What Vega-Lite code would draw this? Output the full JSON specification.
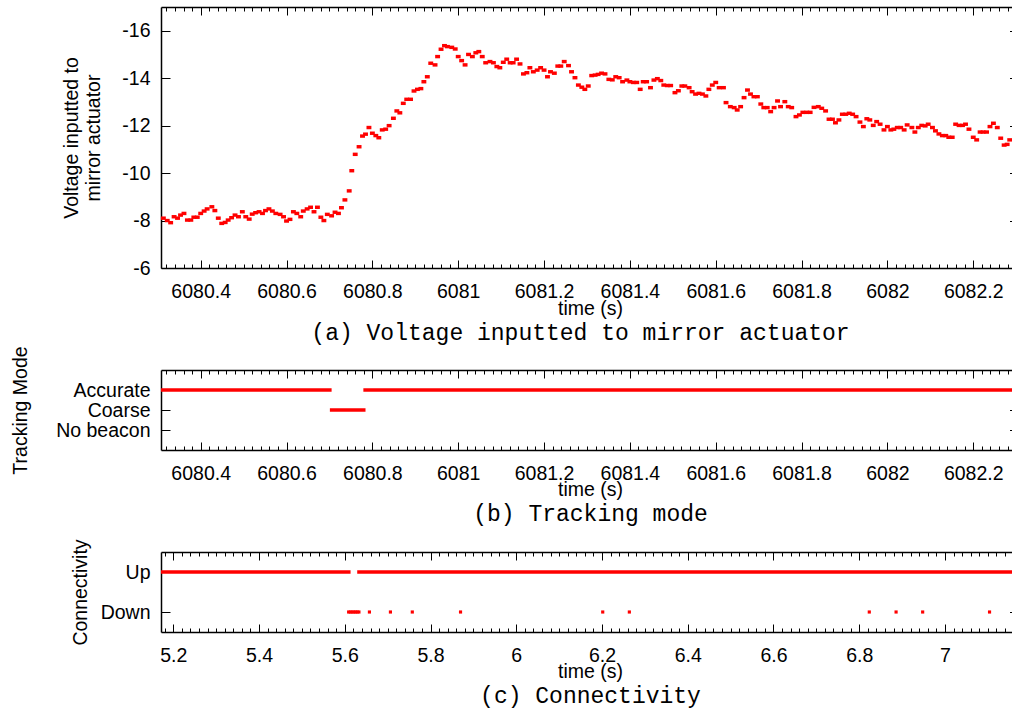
{
  "$schema": "https://vega.github.io/schema/vega-lite/v6.json",
  "autosize": {"type": "pad"},
  "padding": {"left": 10, "top": 6, "right": 0, "bottom": 0},
  "background": "#ffffff",
  "bounds": "flush",
  "spacing": 102,
  "config": {
    "view": {"stroke": null},
    "axis": {
      "grid": false,
      "labelFont": "Liberation Sans", "labelFontSize": 19.5, "labelColor": "#000000",
      "titleFont": "Liberation Sans", "titleFontSize": 19.5, "titleFontWeight": "normal", "titleColor": "#000000",
      "domainColor": "#000000", "domainWidth": 1.5, "tickColor": "#000000", "tickWidth": 1
    },
    "title": {"font": "Liberation Mono", "fontSize": 23, "fontWeight": "normal", "color": "#000000"}
  },
  "datasets": {
    "voltage": [
      {"t":6080.313,"v":-8.10},{"t":6080.322,"v":-8.00},{"t":6080.330,"v":-7.91},{"t":6080.338,"v":-8.16},{"t":6080.346,"v":-8.10},
      {"t":6080.353,"v":-8.23},{"t":6080.361,"v":-8.30},{"t":6080.369,"v":-8.02},{"t":6080.377,"v":-8.02},{"t":6080.384,"v":-8.14},
      {"t":6080.392,"v":-8.14},{"t":6080.400,"v":-8.30},{"t":6080.408,"v":-8.40},{"t":6080.415,"v":-8.49},{"t":6080.426,"v":-8.58},
      {"t":6080.433,"v":-8.42},{"t":6080.441,"v":-8.10},{"t":6080.449,"v":-7.88},{"t":6080.457,"v":-7.92},{"t":6080.464,"v":-8.02},
      {"t":6080.472,"v":-8.12},{"t":6080.480,"v":-8.23},{"t":6080.488,"v":-8.16},{"t":6080.497,"v":-8.37},{"t":6080.505,"v":-8.16},
      {"t":6080.513,"v":-8.06},{"t":6080.520,"v":-8.27},{"t":6080.528,"v":-8.33},{"t":6080.536,"v":-8.37},{"t":6080.544,"v":-8.30},
      {"t":6080.551,"v":-8.42},{"t":6080.559,"v":-8.49},{"t":6080.567,"v":-8.40},{"t":6080.575,"v":-8.30},{"t":6080.585,"v":-8.26},
      {"t":6080.593,"v":-8.16},{"t":6080.600,"v":-7.98},{"t":6080.608,"v":-8.05},{"t":6080.616,"v":-8.37},{"t":6080.624,"v":-8.30},
      {"t":6080.633,"v":-8.16},{"t":6080.639,"v":-8.40},{"t":6080.648,"v":-8.49},{"t":6080.656,"v":-8.56},{"t":6080.664,"v":-8.37},
      {"t":6080.672,"v":-8.56},{"t":6080.680,"v":-8.14},{"t":6080.687,"v":-8.00},{"t":6080.695,"v":-8.26},{"t":6080.705,"v":-8.20},
      {"t":6080.713,"v":-8.35},{"t":6080.721,"v":-8.30},{"t":6080.728,"v":-8.54},{"t":6080.736,"v":-8.87},{"t":6080.746,"v":-9.25},
      {"t":6080.752,"v":-10.10},{"t":6080.760,"v":-10.79},{"t":6080.769,"v":-11.11},{"t":6080.777,"v":-11.56},{"t":6080.784,"v":-11.64},
      {"t":6080.792,"v":-11.92},{"t":6080.800,"v":-11.68},{"t":6080.808,"v":-11.58},{"t":6080.815,"v":-11.49},{"t":6080.823,"v":-11.82},
      {"t":6080.831,"v":-11.85},{"t":6080.839,"v":-12.00},{"t":6080.849,"v":-12.31},{"t":6080.857,"v":-12.62},{"t":6080.864,"v":-12.54},
      {"t":6080.872,"v":-12.94},{"t":6080.880,"v":-13.11},{"t":6080.889,"v":-13.11},{"t":6080.897,"v":-13.46},{"t":6080.905,"v":-13.53},
      {"t":6080.913,"v":-13.56},{"t":6080.920,"v":-13.85},{"t":6080.928,"v":-14.06},{"t":6080.936,"v":-14.63},{"t":6080.946,"v":-14.56},
      {"t":6080.952,"v":-14.91},{"t":6080.960,"v":-15.22},{"t":6080.968,"v":-15.37},{"t":6080.975,"v":-15.33},{"t":6080.985,"v":-15.30},
      {"t":6080.993,"v":-15.23},{"t":6081.000,"v":-14.91},{"t":6081.008,"v":-14.74},{"t":6081.016,"v":-14.56},{"t":6081.024,"v":-15.00},
      {"t":6081.033,"v":-14.91},{"t":6081.041,"v":-15.07},{"t":6081.048,"v":-15.12},{"t":6081.056,"v":-14.91},{"t":6081.064,"v":-14.65},
      {"t":6081.074,"v":-14.70},{"t":6081.082,"v":-14.65},{"t":6081.090,"v":-14.49},{"t":6081.097,"v":-14.44},{"t":6081.105,"v":-14.67},
      {"t":6081.113,"v":-14.80},{"t":6081.121,"v":-14.65},{"t":6081.128,"v":-14.65},{"t":6081.136,"v":-14.80},{"t":6081.144,"v":-14.60},
      {"t":6081.152,"v":-14.18},{"t":6081.160,"v":-14.23},{"t":6081.167,"v":-14.44},{"t":6081.175,"v":-14.27},{"t":6081.184,"v":-14.34},
      {"t":6081.192,"v":-14.44},{"t":6081.200,"v":-14.34},{"t":6081.208,"v":-14.06},{"t":6081.215,"v":-14.27},{"t":6081.224,"v":-14.21},
      {"t":6081.232,"v":-14.51},{"t":6081.239,"v":-14.51},{"t":6081.247,"v":-14.70},{"t":6081.257,"v":-14.53},{"t":6081.264,"v":-14.27},
      {"t":6081.272,"v":-14.02},{"t":6081.280,"v":-13.71},{"t":6081.288,"v":-13.62},{"t":6081.295,"v":-13.53},{"t":6081.303,"v":-13.67},
      {"t":6081.311,"v":-14.11},{"t":6081.319,"v":-14.13},{"t":6081.326,"v":-14.16},{"t":6081.334,"v":-14.21},{"t":6081.342,"v":-14.18},
      {"t":6081.351,"v":-13.95},{"t":6081.359,"v":-13.93},{"t":6081.367,"v":-14.06},{"t":6081.375,"v":-14.02},{"t":6081.383,"v":-13.85},
      {"t":6081.393,"v":-13.92},{"t":6081.400,"v":-13.85},{"t":6081.408,"v":-13.82},{"t":6081.416,"v":-13.82},{"t":6081.424,"v":-13.53},
      {"t":6081.431,"v":-13.85},{"t":6081.439,"v":-13.85},{"t":6081.448,"v":-13.60},{"t":6081.456,"v":-13.92},{"t":6081.464,"v":-13.98},
      {"t":6081.472,"v":-13.90},{"t":6081.479,"v":-13.71},{"t":6081.487,"v":-13.69},{"t":6081.495,"v":-13.69},{"t":6081.505,"v":-13.39},
      {"t":6081.513,"v":-13.47},{"t":6081.521,"v":-13.67},{"t":6081.528,"v":-13.67},{"t":6081.538,"v":-13.60},{"t":6081.545,"v":-13.43},
      {"t":6081.553,"v":-13.33},{"t":6081.561,"v":-13.36},{"t":6081.569,"v":-13.33},{"t":6081.577,"v":-13.25},{"t":6081.584,"v":-13.53},
      {"t":6081.592,"v":-13.71},{"t":6081.600,"v":-13.82},{"t":6081.608,"v":-13.60},{"t":6081.618,"v":-13.60},{"t":6081.624,"v":-12.97},
      {"t":6081.634,"v":-12.80},{"t":6081.643,"v":-12.76},{"t":6081.650,"v":-12.66},{"t":6081.658,"v":-12.80},{"t":6081.666,"v":-13.18},
      {"t":6081.674,"v":-13.50},{"t":6081.681,"v":-13.33},{"t":6081.689,"v":-13.22},{"t":6081.697,"v":-13.22},{"t":6081.705,"v":-12.91},
      {"t":6081.712,"v":-12.76},{"t":6081.720,"v":-12.76},{"t":6081.728,"v":-12.59},{"t":6081.736,"v":-12.76},{"t":6081.744,"v":-13.04},
      {"t":6081.751,"v":-12.80},{"t":6081.761,"v":-13.01},{"t":6081.769,"v":-12.80},{"t":6081.777,"v":-12.76},{"t":6081.787,"v":-12.38},
      {"t":6081.795,"v":-12.45},{"t":6081.803,"v":-12.56},{"t":6081.812,"v":-12.56},{"t":6081.820,"v":-12.56},{"t":6081.829,"v":-12.77},
      {"t":6081.839,"v":-12.80},{"t":6081.847,"v":-12.73},{"t":6081.856,"v":-12.62},{"t":6081.864,"v":-12.27},{"t":6081.872,"v":-12.27},
      {"t":6081.879,"v":-12.12},{"t":6081.887,"v":-12.24},{"t":6081.895,"v":-12.48},{"t":6081.903,"v":-12.48},{"t":6081.911,"v":-12.52},
      {"t":6081.919,"v":-12.48},{"t":6081.927,"v":-12.38},{"t":6081.936,"v":-12.15},{"t":6081.944,"v":-11.96},{"t":6081.952,"v":-12.29},
      {"t":6081.959,"v":-12.24},{"t":6081.967,"v":-12.01},{"t":6081.975,"v":-12.17},{"t":6081.983,"v":-12.06},{"t":6081.992,"v":-11.82},
      {"t":6082.000,"v":-11.96},{"t":6082.008,"v":-11.82},{"t":6082.015,"v":-11.85},{"t":6082.023,"v":-11.92},{"t":6082.031,"v":-11.92},
      {"t":6082.039,"v":-11.82},{"t":6082.046,"v":-12.03},{"t":6082.057,"v":-11.92},{"t":6082.064,"v":-11.73},{"t":6082.072,"v":-11.92},
      {"t":6082.080,"v":-12.01},{"t":6082.088,"v":-11.99},{"t":6082.095,"v":-12.06},{"t":6082.105,"v":-11.92},{"t":6082.112,"v":-11.78},
      {"t":6082.120,"v":-11.65},{"t":6082.128,"v":-11.58},{"t":6082.136,"v":-11.58},{"t":6082.143,"v":-11.51},{"t":6082.151,"v":-11.51},
      {"t":6082.159,"v":-12.06},{"t":6082.167,"v":-12.01},{"t":6082.175,"v":-12.01},{"t":6082.182,"v":-12.06},{"t":6082.190,"v":-11.85},
      {"t":6082.200,"v":-11.51},{"t":6082.208,"v":-11.40},{"t":6082.216,"v":-11.73},{"t":6082.223,"v":-11.73},{"t":6082.231,"v":-11.73},
      {"t":6082.239,"v":-11.96},{"t":6082.247,"v":-12.10},{"t":6082.256,"v":-11.92},{"t":6082.264,"v":-11.47},{"t":6082.272,"v":-11.18},
      {"t":6082.279,"v":-11.21},{"t":6082.285,"v":-11.40}
    ],
    "tracking": [
      {"mode":"Accurate","start":6080.3075,"end":6080.705},
      {"mode":"Coarse","start":6080.701,"end":6080.784},
      {"mode":"Accurate","start":6080.779,"end":6082.2903}
    ],
    "connUp": [
      {"state":"Up","start":5.1713,"end":5.6135},
      {"state":"Up","start":5.629,"end":7.1564}
    ],
    "connDown": [
      {"state":"Down","t":5.609},{"state":"Down","t":5.613},{"state":"Down","t":5.617},{"state":"Down","t":5.621},
      {"state":"Down","t":5.625},{"state":"Down","t":5.629},{"state":"Down","t":5.633},{"state":"Down","t":5.6575},
      {"state":"Down","t":5.7065},{"state":"Down","t":5.7575},{"state":"Down","t":5.870},{"state":"Down","t":6.2017},
      {"state":"Down","t":6.2638},{"state":"Down","t":6.8235},{"state":"Down","t":6.886},{"state":"Down","t":6.948},
      {"state":"Down","t":7.104}
    ]
  },
  "vconcat": [
    {
      "width": 851,
      "height": 261,
      "title": {"text": "(a) Voltage inputted to mirror actuator", "orient": "bottom", "anchor": "middle", "frame": "group", "baseline": "alphabetic", "offset": 22, "dx": -6},
      "resolve": {"axis": {"x": "independent", "y": "independent"}},
      "layer": [
        {
          "data": {"name": "voltage"},
          "mark": {"type": "point", "filled": true, "shape": "M-1,-0.7H1V0.7H-1Z", "size": 24, "color": "#ff0000", "opacity": 1},
          "encoding": {
            "x": {"field": "t", "type": "quantitative",
              "scale": {"domain": [6080.3075, 6082.2903], "nice": false, "zero": false},
              "axis": {"orient": "bottom", "tickCount": 100, "tickSize": -8,
                "tickDash": {"condition": {"test": "abs(datum.value*5 - round(datum.value*5)) < 0.001", "value": [20, 1]}, "value": [4, 20]},
                "labelExpr": "abs(datum.value*5 - round(datum.value*5)) < 0.001 ? toString(round(datum.value*10)/10) : ''",
                "labelOverlap": false, "labelFlush": false, "labelBaseline": "alphabetic", "labelPadding": 37,
                "title": "time (s)", "titleX": 429, "titleY": 46, "titleBaseline": "alphabetic", "titleAlign": "center"}},
            "y": {"field": "v", "type": "quantitative",
              "scale": {"domain": [-17, -6], "reverse": true, "nice": false, "zero": false},
              "axis": {"orient": "left", "values": [-16, -14, -12, -10, -8, -6], "tickSize": -9,
                "labelExpr": "toString(datum.value)", "labelPadding": 20, "labelBaseline": "middle", "labelAlign": "right",
                "title": ["Voltage inputted to", "mirror actuator"], "titleX": -84, "titleY": 130.5, "titleAngle": -90,
                "titleAlign": "center", "titleBaseline": "alphabetic", "titleLineHeight": 22}}
          }
        },
        {
          "data": {"name": "voltage"},
          "mark": {"type": "point", "opacity": 0},
          "encoding": {
            "x": {"field": "t", "type": "quantitative",
              "scale": {"domain": [6080.3075, 6082.2903], "nice": false, "zero": false},
              "axis": {"orient": "top", "tickCount": 100, "tickSize": -8,
                "tickDash": {"condition": {"test": "abs(datum.value*5 - round(datum.value*5)) < 0.001", "value": [20, 1]}, "value": [4, 20]},
                "labels": false, "title": null}},
            "y": {"field": "v", "type": "quantitative",
              "scale": {"domain": [-17, -6], "reverse": true, "nice": false, "zero": false},
              "axis": {"orient": "right", "values": [-16, -14, -12, -10, -8, -6], "tickSize": -2.5, "labels": false, "domain": false, "title": null}}
          }
        }
      ]
    },
    {
      "width": 851,
      "height": 80,
      "title": {"text": "(b) Tracking mode", "orient": "bottom", "anchor": "middle", "frame": "group", "baseline": "alphabetic", "offset": 22, "dx": 4},
      "resolve": {"axis": {"x": "independent", "y": "independent"}},
      "layer": [
        {
          "data": {"name": "tracking"},
          "mark": {"type": "rule", "color": "#ff0000", "strokeWidth": 3.5},
          "encoding": {
            "x": {"field": "start", "type": "quantitative",
              "scale": {"domain": [6080.3075, 6082.2903], "nice": false, "zero": false},
              "axis": {"orient": "bottom", "tickCount": 100, "tickSize": -8,
                "tickDash": {"condition": {"test": "abs(datum.value*5 - round(datum.value*5)) < 0.001", "value": [20, 1]}, "value": [4, 20]},
                "labelExpr": "abs(datum.value*5 - round(datum.value*5)) < 0.001 ? toString(round(datum.value*10)/10) : ''",
                "labelOverlap": false, "labelFlush": false, "labelBaseline": "alphabetic", "labelPadding": 37,
                "title": "time (s)", "titleX": 429, "titleY": 45, "titleBaseline": "alphabetic", "titleAlign": "center"}},
            "x2": {"field": "end"},
            "y": {"field": "mode", "type": "nominal",
              "scale": {"type": "point", "domain": ["Accurate", "Coarse", "No beacon"], "padding": 1},
              "axis": {"orient": "left", "tickSize": -9, "labelPadding": 20, "labelBaseline": "middle", "labelAlign": "right",
                "title": "Tracking Mode", "titleX": -135, "titleY": 40, "titleAngle": -90, "titleAlign": "center", "titleBaseline": "alphabetic"}}
          }
        },
        {
          "data": {"name": "tracking"},
          "mark": {"type": "rule", "opacity": 0},
          "encoding": {
            "x": {"field": "start", "type": "quantitative",
              "scale": {"domain": [6080.3075, 6082.2903], "nice": false, "zero": false},
              "axis": {"orient": "top", "tickCount": 100, "tickSize": -8,
                "tickDash": {"condition": {"test": "abs(datum.value*5 - round(datum.value*5)) < 0.001", "value": [20, 1]}, "value": [4, 20]},
                "labels": false, "title": null}},
            "x2": {"field": "end"},
            "y": {"field": "mode", "type": "nominal",
              "scale": {"type": "point", "domain": ["Accurate", "Coarse", "No beacon"], "padding": 1},
              "axis": {"orient": "right", "tickSize": -2.5, "labels": false, "domain": false, "title": null}}
          }
        }
      ]
    },
    {
      "width": 851,
      "height": 80,
      "title": {"text": "(c) Connectivity", "orient": "bottom", "anchor": "middle", "frame": "group", "baseline": "alphabetic", "offset": 22, "dx": 4},
      "resolve": {"axis": {"x": "independent", "y": "independent"}},
      "layer": [
        {
          "data": {"name": "connUp"},
          "mark": {"type": "rule", "color": "#ff0000", "strokeWidth": 3.3},
          "encoding": {
            "x": {"field": "start", "type": "quantitative",
              "scale": {"domain": [5.1713, 7.1564], "nice": false, "zero": false},
              "axis": {"orient": "bottom", "tickCount": 100, "tickSize": -8,
                "tickDash": {"condition": {"test": "abs(datum.value*5 - round(datum.value*5)) < 0.001", "value": [20, 1]}, "value": [4, 20]},
                "labelExpr": "abs(datum.value*5 - round(datum.value*5)) < 0.001 ? toString(round(datum.value*10)/10) : ''",
                "labelOverlap": false, "labelFlush": false, "labelBaseline": "alphabetic", "labelPadding": 37,
                "title": "time (s)", "titleX": 429, "titleY": 45, "titleBaseline": "alphabetic", "titleAlign": "center"}},
            "x2": {"field": "end"},
            "y": {"field": "state", "type": "nominal",
              "scale": {"type": "point", "domain": ["Up", "Down"], "padding": 0.5},
              "axis": {"orient": "left", "tickSize": -9, "labelPadding": 20, "labelBaseline": "middle", "labelAlign": "right",
                "title": "Connectivity", "titleX": -75, "titleY": 40, "titleAngle": -90, "titleAlign": "center", "titleBaseline": "alphabetic"}}
          }
        },
        {
          "data": {"name": "connDown"},
          "mark": {"type": "point", "filled": true, "shape": "square", "size": 10, "color": "#ff0000", "opacity": 1},
          "encoding": {
            "x": {"field": "t", "type": "quantitative",
              "scale": {"domain": [5.1713, 7.1564], "nice": false, "zero": false}, "axis": null},
            "y": {"field": "state", "type": "nominal",
              "scale": {"type": "point", "domain": ["Up", "Down"], "padding": 0.5}, "axis": null}
          }
        },
        {
          "data": {"name": "connUp"},
          "mark": {"type": "rule", "opacity": 0},
          "encoding": {
            "x": {"field": "start", "type": "quantitative",
              "scale": {"domain": [5.1713, 7.1564], "nice": false, "zero": false},
              "axis": {"orient": "top", "tickCount": 100, "tickSize": -8,
                "tickDash": {"condition": {"test": "abs(datum.value*5 - round(datum.value*5)) < 0.001", "value": [20, 1]}, "value": [4, 20]},
                "labels": false, "title": null}},
            "x2": {"field": "end"},
            "y": {"field": "state", "type": "nominal",
              "scale": {"type": "point", "domain": ["Up", "Down"], "padding": 0.5},
              "axis": {"orient": "right", "tickSize": -2.5, "labels": false, "domain": false, "title": null}}
          }
        }
      ]
    }
  ]
}
